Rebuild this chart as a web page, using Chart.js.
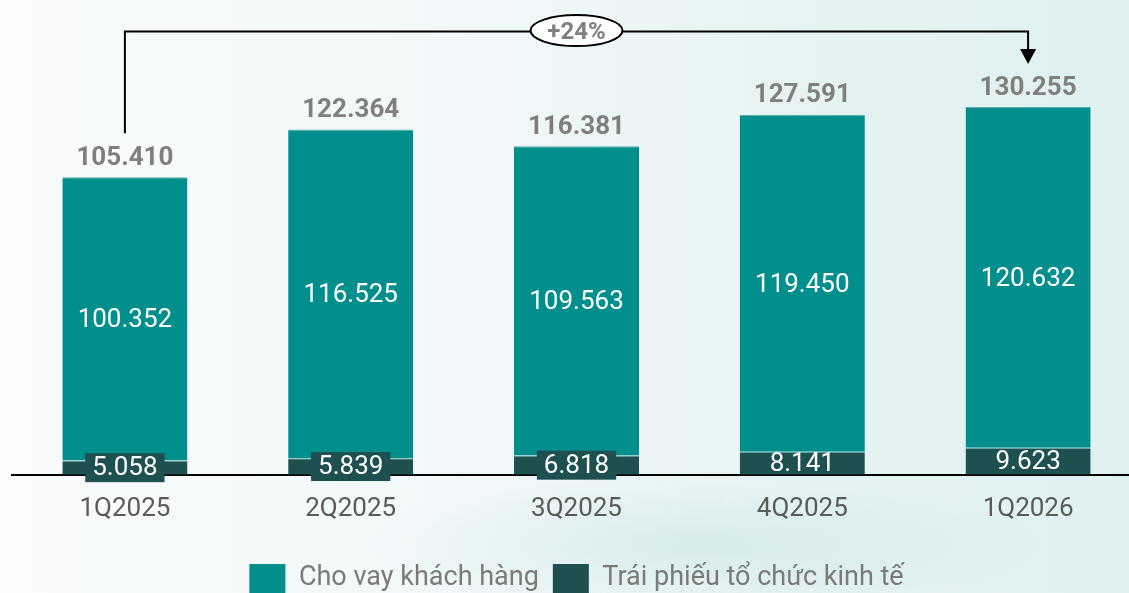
<!DOCTYPE html>
<html>
<head>
<meta charset="utf-8">
<script src="https://cdn.jsdelivr.net/npm/chart.js@4.4.1/dist/chart.umd.min.js"></script>
<style>
    html, body {
        margin: 0;
        padding: 0;
        overflow: hidden;
        width: 1129px;
        height: 593px;
    }
    body {
        background:
            radial-gradient(ellipse 340px 70px at 700px 545px, rgba(200, 228, 228, 0.55), rgba(200, 228, 228, 0) 100%),
            linear-gradient(90deg, #f9fbfc 0%, #f2f8f9 40%, #e5f2f2 75%, #e0f0f0 100%);
    }
    .chart-container {
        position: absolute;
        left: 0;
        top: 0;
        width: 1141px;
        height: 593px;
    }
</style>
</head>
<body>
<div class="chart-container">
    <canvas id="loanChart"></canvas>
</div>
<script>
const categories = ['1Q2025', '2Q2025', '3Q2025', '4Q2025', '1Q2026'];
const loanValues = [100.352, 116.525, 109.563, 119.450, 120.632];
const bondValues = [5.058, 5.839, 6.818, 8.141, 9.623];
const seriesNames = ['Cho vay khách hàng', 'Trái phiếu tổ chức kinh tế'];

const TEAL = '#008f8c';
const DARK = '#1f5050';
const FONT = 'Roboto, "Noto Sans", sans-serif';

const totals = categories.map((_, i) => loanValues[i] + bondValues[i]);

function fmt(v) {
    return v.toFixed(3);
}

// labels on bars, totals above and the growth arrow
const labelPlugin = {
    id: 'barLabels',
    afterDatasetsDraw(chart) {
        const ctx = chart.ctx;
        const bondMeta = chart.getDatasetMeta(0);
        const loanMeta = chart.getDatasetMeta(1);
        ctx.save();
        ctx.textAlign = 'center';
        ctx.textBaseline = 'middle';

        loanMeta.data.forEach((bar, i) => {
            ctx.fillStyle = '#ffffff';
            ctx.font = '26px ' + FONT;
            ctx.fillText(fmt(loanValues[i]), bar.x, (bar.y + bar.base) / 2 + 2);

            ctx.fillStyle = '#7f7f7f';
            ctx.font = 'bold 26px ' + FONT;
            ctx.fillText(fmt(totals[i]), bar.x, bar.y - 19);
        });

        bondMeta.data.forEach((bar, i) => {
            const mid = (bar.y + bar.base) / 2;
            ctx.font = '26px ' + FONT;
            const h = bar.base - bar.y;
            if (h < 21) {
                const w = ctx.measureText(fmt(bondValues[i])).width + 14;
                ctx.fillStyle = DARK;
                ctx.fillRect(bar.x - w / 2, mid - 14.5, w, 29);
            }
            ctx.fillStyle = '#ffffff';
            ctx.fillText(fmt(bondValues[i]), bar.x, mid + 1);
        });

        // growth arrow from first to last total
        const first = loanMeta.data[0];
        const last = loanMeta.data[loanMeta.data.length - 1];
        const lineY = chart.scales.y.getPixelForValue(157);
        const tipY = last.y - 43;
        ctx.strokeStyle = '#000000';
        ctx.lineWidth = 2;
        ctx.beginPath();
        ctx.moveTo(first.x, first.y - 44);
        ctx.lineTo(first.x, lineY);
        ctx.lineTo(last.x, lineY);
        ctx.lineTo(last.x, tipY - 14);
        ctx.stroke();
        ctx.fillStyle = '#000000';
        ctx.beginPath();
        ctx.moveTo(last.x - 8, tipY - 15);
        ctx.lineTo(last.x + 8, tipY - 15);
        ctx.lineTo(last.x, tipY);
        ctx.closePath();
        ctx.fill();

        const growth = Math.round((totals[totals.length - 1] / totals[0] - 1) * 100);
        const cx = chart.scales.x.getPixelForValue(2);
        ctx.fillStyle = '#ffffff';
        ctx.beginPath();
        ctx.ellipse(cx, lineY - 1, 46, 15.5, 0, 0, Math.PI * 2);
        ctx.fill();
        ctx.stroke();
        ctx.fillStyle = '#808080';
        ctx.font = 'bold 24px ' + FONT;
        ctx.fillText('+' + growth + '%', cx, lineY + 1);
        ctx.restore();
    }
};

const ctx = document.getElementById('loanChart').getContext('2d');
const loanChart = new Chart(ctx, {
    type: 'bar',
    data: {
        labels: categories,
        datasets: [{
            label: seriesNames[1],
            data: bondValues,
            backgroundColor: DARK,
            borderColor: '#5faeac',
            borderWidth: { top: 1, left: 0, right: 0, bottom: 0 },
            borderSkipped: false,
            categoryPercentage: 1,
            barPercentage: 0.554
        }, {
            label: seriesNames[0],
            data: loanValues,
            backgroundColor: TEAL,
            borderColor: '#5faeac',
            borderWidth: { top: 1, left: 0, right: 0, bottom: 0 },
            borderSkipped: false,
            categoryPercentage: 1,
            barPercentage: 0.554
        }]
    },
    options: {
        responsive: true,
        maintainAspectRatio: false,
        animation: false,
        layout: {
            padding: { left: 12, right: 0, top: 0, bottom: -10 }
        },
        scales: {
            x: {
                stacked: true,
                grid: { display: false, drawTicks: false },
                border: { display: true, color: '#000000', width: 2 },
                ticks: {
                    color: '#5a5a5a',
                    font: { family: FONT, size: 26 },
                    padding: 19
                },
                afterFit(scale) {
                    scale.height += 6;
                }
            },
            y: {
                stacked: true,
                display: false,
                min: 0,
                max: 168.2
            }
        },
        plugins: {
            tooltip: { enabled: false },
            legend: {
                position: 'bottom',
                labels: {
                    color: '#7a7a7a',
                    font: { family: FONT, size: 27 },
                    boxWidth: 36,
                    boxHeight: 29,
                    padding: 14,
                    sort: (a, b) => b.datasetIndex - a.datasetIndex,
                    generateLabels(chart) {
                        return chart.data.datasets.map((ds, i) => ({
                            text: ds.label,
                            fillStyle: ds.backgroundColor,
                            strokeStyle: ds.backgroundColor,
                            lineWidth: 0,
                            fontColor: '#7a7a7a',
                            hidden: false,
                            datasetIndex: i
                        }));
                    }
                }
            }
        }
    },
    plugins: [labelPlugin]
});
</script>
</body>
</html>
